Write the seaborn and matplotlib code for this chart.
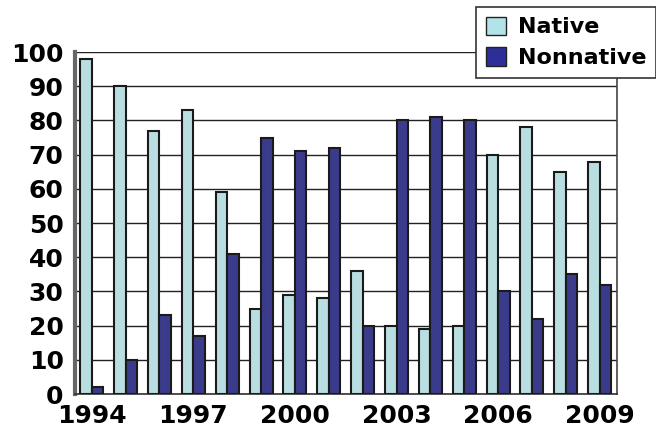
import pandas as pd
import numpy as np
import matplotlib.pyplot as plt
import seaborn as sns

years = [str(y) for y in range(1994, 2010)]
native = [98, 90, 77, 83, 59, 25, 29, 28, 36, 20, 19, 20, 70, 78, 65, 68]
nonnative = [2, 10, 23, 17, 41, 75, 71, 72, 20, 80, 81, 80, 30, 22, 35, 32]
shown_years = ['1994', '1997', '2000', '2003', '2006', '2009']

df = pd.DataFrame({
    'year': years * 2,
    'value': native + nonnative,
    'group': ['Native'] * len(years) + ['Nonnative'] * len(years),
})

sns.set_style('white')
plt.rcParams['font.family'] = ['DejaVu Sans']
plt.rcParams['text.color'] = 'black'

fig = plt.figure(figsize=(6.56, 4.34), dpi=100)
ax = fig.add_axes([0.114, 0.092, 0.826, 0.788])

palette = {'Native': '#B2E3E8', 'Nonnative': '#2E2E98'}
sns.barplot(data=df, x='year', y='value', hue='group', order=years,
            palette=palette, width=0.68, gap=0.0, edgecolor='#1a1a1a',
            linewidth=1.5, ax=ax, legend=False, zorder=3)

ax.set_ylim(0, 100)
ax.set_xlim(-0.5, len(years) - 0.5)
ax.set_yticks(np.arange(0, 101, 10))
ax.yaxis.grid(True, color='#222222', linewidth=1.0, zorder=0)
ax.set_axisbelow(True)

# year labels every third category, tick marks on category boundaries
ax.set_xticks([years.index(y) for y in shown_years])
ax.set_xticklabels(shown_years)
ax.set_xticks(np.arange(-0.5, len(years), 1.0), minor=True)
ax.tick_params(axis='x', which='major', length=0, pad=7, labelcolor='black')
ax.tick_params(axis='x', which='minor', length=6, width=1.2, color='#333333', direction='out')
ax.tick_params(axis='y', length=6, width=1.2, color='#333333', direction='out', pad=2,
               labelcolor='black')
for lab in ax.get_xticklabels() + ax.get_yticklabels():
    lab.set_fontsize(18)
    lab.set_fontweight('bold')

ax.set_xlabel('')
ax.set_ylabel('')
ax.spines['top'].set_visible(False)
ax.spines['left'].set_color('#666666')
ax.spines['left'].set_linewidth(3)
ax.spines['bottom'].set_color('#333333')
ax.spines['bottom'].set_linewidth(1.2)
ax.spines['right'].set_color('#444444')
ax.spines['right'].set_linewidth(1.2)

handles = [plt.Rectangle((0, 0), 1, 1, facecolor=palette[g], edgecolor='#222222', linewidth=1)
           for g in ['Native', 'Nonnative']]
leg = ax.legend(handles, ['Native', 'Nonnative'], loc='upper right',
                bbox_to_anchor=(1.0, 0.985), bbox_transform=fig.transFigure,
                prop={'weight': 'bold', 'size': 16}, frameon=True, fancybox=False,
                handlelength=0.9, handleheight=0.9, handletextpad=0.5,
                borderpad=0.45, labelspacing=0.45, borderaxespad=0)
leg.get_frame().set_edgecolor('#333333')
leg.get_frame().set_linewidth(1.2)
leg.get_frame().set_facecolor('white')
leg.get_frame().set_alpha(1)
leg.set_zorder(10)
for t in leg.get_texts():
    t.set_color('black')

fig.savefig('out.png', dpi=100)
